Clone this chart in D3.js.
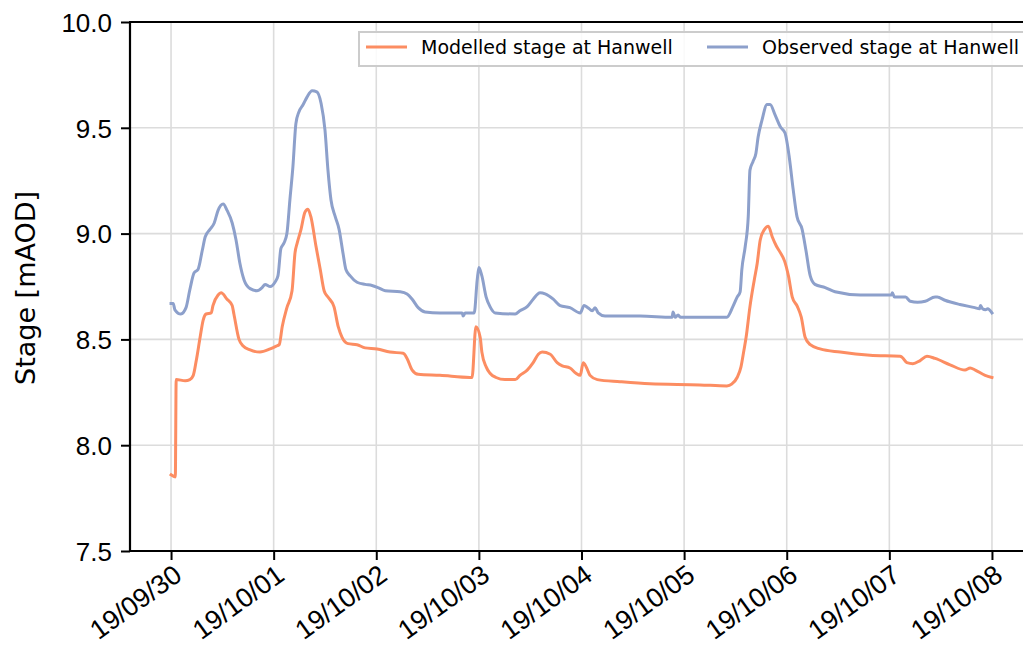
<!DOCTYPE html>
<html>
<head>
<meta charset="utf-8">
<script src="https://cdn.jsdelivr.net/npm/d3@7"></script>
<style>
  html, body { margin: 0; padding: 0; background: #fff; overflow: hidden; }
  svg { display: block; font-family: "DejaVu Sans", sans-serif; }
</style>
</head>
<body>
<svg id="chart" width="1023" height="650"></svg>
<script>
// Hours since 2019-09-30 00:00 and stage (mAOD) for the modelled series
const modelledHours = [0, 1.0, 1.2, 3.3, 4.4, 5.2, 5.9, 6.8, 7.5, 8.2, 9.4, 9.8, 11.0, 11.7, 13.1, 14.3, 14.7, 15.9, 16.8, 18.5, 20.8, 23.2, 24.8, 25.3, 26.0, 27.1, 28.3, 29.0, 29.5, 30.4, 31.3, 32.0, 32.7, 33.9, 34.9, 35.8, 36.7, 38.1, 39.1, 40.0, 41.4, 43.5, 45.4, 48.2, 51.2, 54.3, 55.2, 56.4, 57.8, 62.9, 69.9, 70.4, 71.3, 72.3, 72.7, 73.7, 74.6, 76.0, 78.1, 80.5, 81.6, 83.3, 84.7, 85.9, 86.8, 88.7, 90.3, 91.5, 93.3, 94.7, 95.7, 96.4, 97.1, 98.0, 99.7, 105.0, 112.0, 123.7, 130.0, 131.2, 132.4, 133.3, 134.0, 134.5, 135.4, 136.4, 137.1, 137.8, 138.8, 139.7, 140.6, 141.6, 142.5, 143.5, 144.4, 145.3, 146.5, 147.4, 148.3, 149.5, 151.8, 156.5, 163.5, 170.5, 171.0, 172.1, 173.5, 175.2, 176.8, 178.7, 182.2, 185.7, 186.9, 188.1, 190.4, 192.0];
const modelledStage = [7.86, 7.85, 8.31, 8.305, 8.31, 8.33, 8.40, 8.51, 8.59, 8.62, 8.625, 8.66, 8.71, 8.72, 8.69, 8.66, 8.62, 8.50, 8.47, 8.45, 8.44, 8.455, 8.47, 8.475, 8.56, 8.65, 8.73, 8.91, 8.955, 9.02, 9.10, 9.115, 9.08, 8.94, 8.83, 8.73, 8.70, 8.655, 8.56, 8.51, 8.48, 8.475, 8.46, 8.455, 8.44, 8.435, 8.41, 8.355, 8.335, 8.33, 8.32, 8.32, 8.56, 8.51, 8.44, 8.37, 8.34, 8.32, 8.31, 8.31, 8.33, 8.355, 8.39, 8.43, 8.44, 8.43, 8.39, 8.375, 8.365, 8.34, 8.33, 8.39, 8.37, 8.33, 8.31, 8.30, 8.29, 8.285, 8.28, 8.29, 8.32, 8.37, 8.45, 8.51, 8.655, 8.78, 8.86, 8.97, 9.02, 9.035, 8.985, 8.94, 8.91, 8.87, 8.80, 8.70, 8.655, 8.605, 8.51, 8.475, 8.455, 8.44, 8.425, 8.42, 8.415, 8.39, 8.385, 8.40, 8.42, 8.41, 8.38, 8.355, 8.365, 8.355, 8.33, 8.32];

// Hours since 2019-09-30 00:00 and stage (mAOD) for the observed series
const observedHours = [0, 0.5, 0.9, 2.3, 3.5, 4.4, 5.4, 6.3, 7.3, 8.0, 9.1, 10.1, 11.0, 12.2, 13.1, 14.3, 15.2, 16.1, 17.1, 18.5, 20.1, 21.3, 22.0, 23.2, 24.3, 25.0, 25.7, 26.4, 27.1, 27.8, 28.5, 29.2, 29.9, 30.9, 31.8, 33.0, 34.1, 35.1, 36.0, 36.7, 37.4, 38.4, 39.3, 40.2, 40.9, 41.9, 43.5, 45.4, 47.0, 48.4, 50.1, 53.6, 55.2, 56.4, 57.8, 59.4, 62.9, 68.1, 68.3, 68.8, 70.9, 71.6, 72.0, 72.7, 73.7, 74.6, 75.8, 80.5, 81.6, 83.3, 84.7, 86.3, 87.5, 89.4, 91.0, 93.3, 95.7, 96.6, 97.5, 98.5, 99.2, 99.9, 101.5, 109.7, 117.2, 117.4, 117.9, 118.6, 119.1, 130.0, 131.4, 132.4, 133.1, 133.5, 134.3, 135.0, 135.4, 136.1, 136.8, 137.3, 138.2, 139.4, 140.1, 141.3, 142.5, 143.6, 144.6, 145.5, 146.4, 147.6, 148.5, 149.5, 150.6, 153.0, 155.3, 161.2, 165.9, 168.5, 168.7, 169.2, 171.8, 172.9, 174.6, 176.4, 178.7, 179.2, 181.0, 184.5, 188.0, 189.1, 189.3, 189.8, 190.5, 191.0, 192.0];
const observedStage = [8.67, 8.67, 8.64, 8.62, 8.65, 8.735, 8.815, 8.83, 8.92, 8.985, 9.02, 9.05, 9.11, 9.14, 9.11, 9.05, 8.97, 8.86, 8.78, 8.74, 8.73, 8.745, 8.76, 8.75, 8.77, 8.80, 8.93, 8.955, 9.00, 9.16, 9.315, 9.52, 9.575, 9.61, 9.645, 9.675, 9.67, 9.615, 9.49, 9.30, 9.16, 9.08, 9.02, 8.91, 8.83, 8.80, 8.77, 8.76, 8.755, 8.745, 8.73, 8.725, 8.715, 8.69, 8.65, 8.63, 8.625, 8.625, 8.61, 8.625, 8.625, 8.78, 8.84, 8.80, 8.70, 8.655, 8.625, 8.62, 8.635, 8.655, 8.69, 8.72, 8.715, 8.69, 8.66, 8.65, 8.625, 8.66, 8.65, 8.635, 8.65, 8.625, 8.61, 8.61, 8.605, 8.63, 8.605, 8.615, 8.605, 8.605, 8.655, 8.70, 8.725, 8.83, 8.94, 9.08, 9.30, 9.34, 9.38, 9.455, 9.535, 9.61, 9.61, 9.56, 9.505, 9.475, 9.36, 9.21, 9.08, 9.02, 8.92, 8.80, 8.76, 8.745, 8.725, 8.71, 8.71, 8.71, 8.72, 8.70, 8.70, 8.68, 8.675, 8.68, 8.70, 8.70, 8.685, 8.665, 8.65, 8.645, 8.66, 8.645, 8.64, 8.645, 8.625];

const yTicks = [7.5, 8.0, 8.5, 9.0, 9.5, 10.0];
const seriesNames = ["Modelled stage at Hanwell", "Observed stage at Hanwell"];
const seriesColors = ["#fc8d62", "#8da0cb"];

const startTime = Date.UTC(2019, 8, 30, 0, 0);
const HOUR = 3600 * 1000;
const toDate = h => new Date(startTime + h * HOUR);

const modelled = modelledHours.map((h, i) => ({ t: toDate(h), v: modelledStage[i] }));
const observed = observedHours.map((h, i) => ({ t: toDate(h), v: observedStage[i] }));

const svg = d3.select("#chart");
const plotLeft = 130, plotRight = 1033, plotTop = 22, plotBottom = 551;
const tickLen = 9, tickPad = 9;

// 5% padding either side of the 8-day span
const pad = 192 * 0.05;
const x = d3.scaleUtc()
  .domain([toDate(-pad), toDate(192 + pad)])
  .range([plotLeft, plotRight]);
const y = d3.scaleLinear().domain([7.5, 10.0]).range([plotBottom, plotTop]);

const dayTicks = d3.range(0, 9).map(d => toDate(d * 24));
const fmt = d3.utcFormat("%y/%m/%d");

// grid
const grid = svg.append("g");
grid.selectAll("line.v").data(dayTicks).enter().append("line")
  .attr("x1", d => x(d)).attr("x2", d => x(d))
  .attr("y1", plotTop).attr("y2", plotBottom)
  .attr("stroke", "#dcdcdc").attr("stroke-width", 1.6);
grid.selectAll("line.h").data(yTicks).enter().append("line")
  .attr("x1", plotLeft).attr("x2", plotRight)
  .attr("y1", d => y(d)).attr("y2", d => y(d))
  .attr("stroke", "#dcdcdc").attr("stroke-width", 1.6);

// series
const line = d3.line()
  .defined(d => d.v != null && !isNaN(d.v))
  .x(d => x(d.t)).y(d => y(d.v))
  .curve(d3.curveMonotoneX);
[modelled, observed].forEach((series, i) => {
  svg.append("path").datum(series)
    .attr("fill", "none").attr("stroke", seriesColors[i])
    .attr("stroke-width", 3).attr("stroke-linejoin", "round").attr("stroke-linecap", "square")
    .attr("d", line);
});

// axes
const xAxis = d3.axisBottom(x).tickValues(dayTicks).tickFormat(fmt).tickSize(tickLen).tickPadding(tickPad);
const gx = svg.append("g").attr("transform", `translate(0,${plotBottom})`).call(xAxis);
gx.select(".domain").remove();
gx.selectAll(".tick line").attr("stroke", "#000").attr("stroke-width", 2);
const labelTop = tickLen + tickPad - 7;
gx.selectAll(".tick text")
  .attr("font-size", 27).attr("fill", "#000")
  .attr("text-anchor", "end")
  .attr("dy", "0.76em")
  .attr("x", 0).attr("y", labelTop)
  .attr("transform", `rotate(-36, 0, ${labelTop})`);

const yAxis = d3.axisLeft(y).tickValues(yTicks).tickFormat(d3.format(".1f")).tickSize(tickLen).tickPadding(tickPad);
const gy = svg.append("g").attr("transform", `translate(${plotLeft},0)`).call(yAxis);
gy.select(".domain").remove();
gy.selectAll(".tick line").attr("stroke", "#000").attr("stroke-width", 2);
gy.selectAll(".tick text").attr("font-size", 26).attr("fill", "#000").attr("dy", "0.36em");

// spines
svg.append("line").attr("x1", plotLeft).attr("x2", plotLeft).attr("y1", plotTop).attr("y2", plotBottom)
  .attr("stroke", "#000").attr("stroke-width", 2.2);
svg.append("line").attr("x1", plotLeft - 1).attr("x2", plotRight).attr("y1", plotBottom).attr("y2", plotBottom)
  .attr("stroke", "#000").attr("stroke-width", 2.2);
svg.append("line").attr("x1", plotLeft - 1).attr("x2", plotRight).attr("y1", plotTop).attr("y2", plotTop)
  .attr("stroke", "#000").attr("stroke-width", 2.2);

// y label
svg.append("text")
  .attr("transform", `translate(35,288) rotate(-90)`)
  .attr("text-anchor", "middle")
  .attr("font-size", 27).attr("fill", "#000")
  .text("Stage [mAOD]");

// legend
const lg = svg.append("g");
lg.append("rect").attr("x", 359).attr("y", 32).attr("width", 672).attr("height", 34)
  .attr("fill", "#fff").attr("fill-opacity", 0.85)
  .attr("stroke", "#cccccc").attr("stroke-width", 2);
const legendX = [366, 707];
seriesNames.forEach((name, i) => {
  lg.append("line").attr("x1", legendX[i]).attr("x2", legendX[i] + 41)
    .attr("y1", 47).attr("y2", 47)
    .attr("stroke", seriesColors[i]).attr("stroke-width", 3);
  lg.append("text").attr("x", legendX[i] + 55).attr("y", 47).attr("dy", "0.36em")
    .attr("font-size", 19).attr("fill", "#000").text(name);
});
</script>
</body>
</html>
